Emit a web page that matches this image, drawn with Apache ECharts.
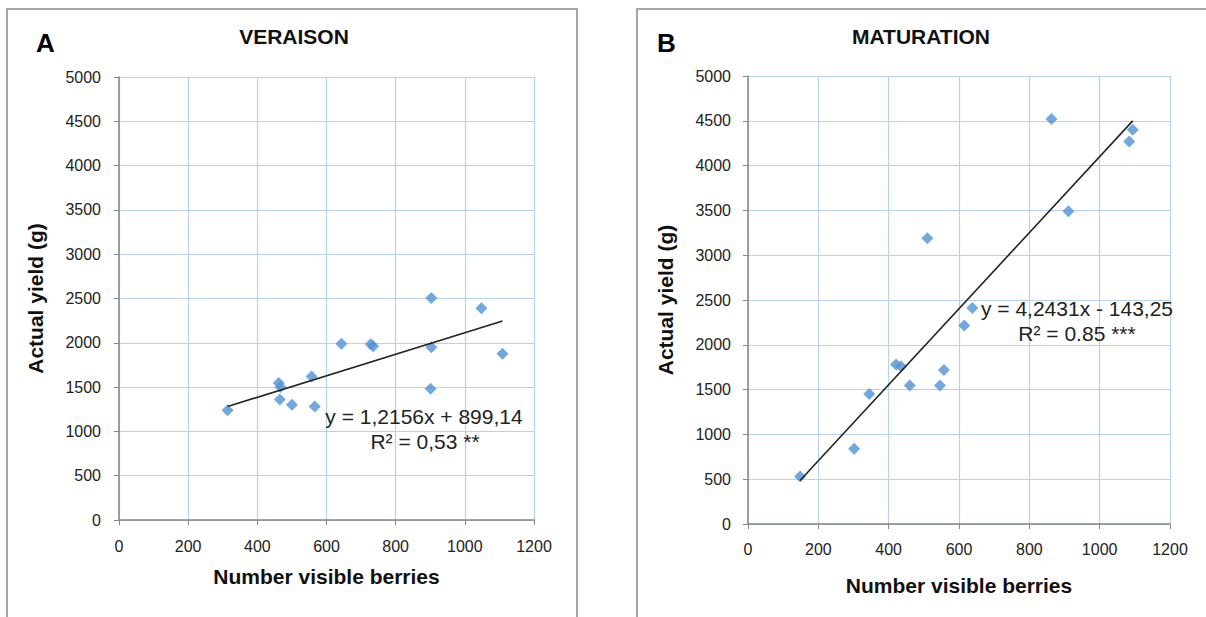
<!DOCTYPE html>
<html>
<head>
    <meta charset="utf-8">
    <script src="https://cdn.jsdelivr.net/npm/echarts@6/dist/echarts.min.js"></script>
    <title>Yield vs visible berries</title>
    <style>
        html, body { margin: 0; padding: 0; background: #fff; }
        #main { width: 1206px; height: 617px; }
    </style>
</head>
<body>
    <div id="main"></div>
    <script type="text/javascript">
        // panel A - veraison
        var berriesA = [314, 462, 467, 465, 500, 557, 566, 643, 728, 735, 903, 903, 901, 1048, 1109];
        var yieldA = [1240, 1545, 1500, 1360, 1300, 1620, 1280, 1990, 1985, 1960, 2505, 1950, 1480, 2390, 1876];
        var fitA = [1.2156, 899.14];   // slope, intercept

        // panel B - maturation
        var berriesB = [148, 302, 345, 421, 435, 460, 546, 557, 615, 638, 510, 863, 911, 1084, 1094];
        var yieldB = [530, 840, 1450, 1780, 1760, 1545, 1545, 1720, 2215, 2410, 3190, 4520, 3490, 4270, 4400];
        var fitB = [4.2431, -143.25];

        var xTicks = [0, 200, 400, 600, 800, 1000, 1200];
        var yTicks = [0, 500, 1000, 1500, 2000, 2500, 3000, 3500, 4000, 4500, 5000];

        function pairs(xs, ys) {
            var out = [];
            for (var i = 0; i < xs.length; i++) out.push([xs[i], ys[i]]);
            return out;
        }
        function trend(xs, fit) {
            var lo = Math.min.apply(null, xs), hi = Math.max.apply(null, xs);
            return [[lo, fit[0] * lo + fit[1]], [hi, fit[0] * hi + fit[1]]];
        }

        var font = '"Liberation Sans", Arial, sans-serif';
        var gridColor = '#b7d2ef';
        var axisColor = '#868686';

        function xAx(idx, gap, margin) {
            return {
                type: 'value', gridIndex: idx,
                min: xTicks[0], max: xTicks[xTicks.length - 1], interval: 200,
                name: 'Number visible berries', nameLocation: 'middle', nameGap: gap,
                nameTextStyle: { fontFamily: font, fontWeight: 'bold', fontSize: 21, color: '#111' },
                axisLine: { show: true, onZero: false, lineStyle: { color: axisColor, width: 1.5 } },
                axisTick: { show: true, length: 5, lineStyle: { color: axisColor } },
                axisLabel: { fontFamily: font, fontSize: 16, color: '#222', margin: margin,
                    formatter: function (v) { return String(v); } },
                splitLine: { show: true, lineStyle: { color: gridColor, width: 1.2 } }
            };
        }
        function yAx(idx, gap, margin) {
            return {
                type: 'value', gridIndex: idx,
                min: yTicks[0], max: yTicks[yTicks.length - 1], interval: 500,
                name: 'Actual yield (g)', nameLocation: 'middle', nameGap: gap,
                nameTextStyle: { fontFamily: font, fontWeight: 'bold', fontSize: 21, color: '#111' },
                axisLine: { show: true, onZero: false, lineStyle: { color: axisColor, width: 1.5 } },
                axisTick: { show: true, length: 5, lineStyle: { color: axisColor } },
                axisLabel: { fontFamily: font, fontSize: 16, color: '#222', margin: margin,
                    formatter: function (v) { return String(v); } },
                splitLine: { show: true, lineStyle: { color: gridColor, width: 1.2 } }
            };
        }

        var dotStyle = { color: '#4f92d6' };
        var lineStyle = { color: '#222', width: 1.6 };

        var myChart = echarts.init(document.getElementById('main'), null, { renderer: 'svg' });

        option = {
            backgroundColor: '#fff',
            animation: false,
            grid: [
                { left: 119, right: 672, top: 77, bottom: 97 },
                { left: 748, right: 36, top: 76, bottom: 93 }
            ],
            xAxis: [xAx(0, 46, 18), xAx(1, 51, 17)],
            yAxis: [yAx(0, 73, 18), yAx(1, 72, 17)],
            series: [
                {
                    type: 'scatter', xAxisIndex: 0, yAxisIndex: 0,
                    symbol: 'diamond', symbolSize: 12, itemStyle: dotStyle,
                    data: pairs(berriesA, yieldA), z: 3
                },
                {
                    type: 'line', xAxisIndex: 0, yAxisIndex: 0,
                    symbol: 'none', lineStyle: lineStyle, data: trend(berriesA, fitA), z: 4
                },
                {
                    type: 'scatter', xAxisIndex: 1, yAxisIndex: 1,
                    symbol: 'diamond', symbolSize: 12, itemStyle: dotStyle,
                    data: pairs(berriesB, yieldB), z: 3
                },
                {
                    type: 'line', xAxisIndex: 1, yAxisIndex: 1,
                    symbol: 'none', lineStyle: lineStyle, data: trend(berriesB, fitB), z: 4
                }
            ],
            graphic: [
                // panel frames
                { type: 'rect', shape: { x: 7, y: 9, width: 570, height: 640 }, style: { fill: 'none', stroke: '#a6a6a6', lineWidth: 2 }, z: 0 },
                { type: 'rect', shape: { x: 637, y: 9, width: 600, height: 640 }, style: { fill: 'none', stroke: '#a6a6a6', lineWidth: 2 }, z: 0 },
                // panel letters and titles
                { type: 'text', left: 36, top: 30, style: { text: 'A', font: 'bold 26px ' + font, fill: '#000' } },
                { type: 'text', left: 657, top: 30, style: { text: 'B', font: 'bold 26px ' + font, fill: '#000' } },
                { type: 'text', x: 294, y: 36, style: { text: 'VERAISON', font: 'bold 21px ' + font, fill: '#111', align: 'center', verticalAlign: 'middle' } },
                { type: 'text', x: 921, y: 36, style: { text: 'MATURATION', font: 'bold 21px ' + font, fill: '#111', align: 'center', verticalAlign: 'middle' } },
                // regression equations
                { type: 'text', x: 424, y: 416, z: 10, style: { text: 'y = 1,2156x + 899,14', font: '21px ' + font, fill: '#222', align: 'center', verticalAlign: 'middle' } },
                { type: 'text', x: 425, y: 441, z: 10, style: { text: 'R² = 0,53 **', font: '21px ' + font, fill: '#222', align: 'center', verticalAlign: 'middle' } },
                { type: 'text', x: 1077, y: 308, z: 10, style: { text: 'y = 4,2431x - 143,25', font: '21px ' + font, fill: '#222', align: 'center', verticalAlign: 'middle' } },
                { type: 'text', x: 1077, y: 333, z: 10, style: { text: 'R² = 0.85 ***', font: '21px ' + font, fill: '#222', align: 'center', verticalAlign: 'middle' } }
            ]
        };
        myChart.setOption(option);
    </script>
</body>
</html>
